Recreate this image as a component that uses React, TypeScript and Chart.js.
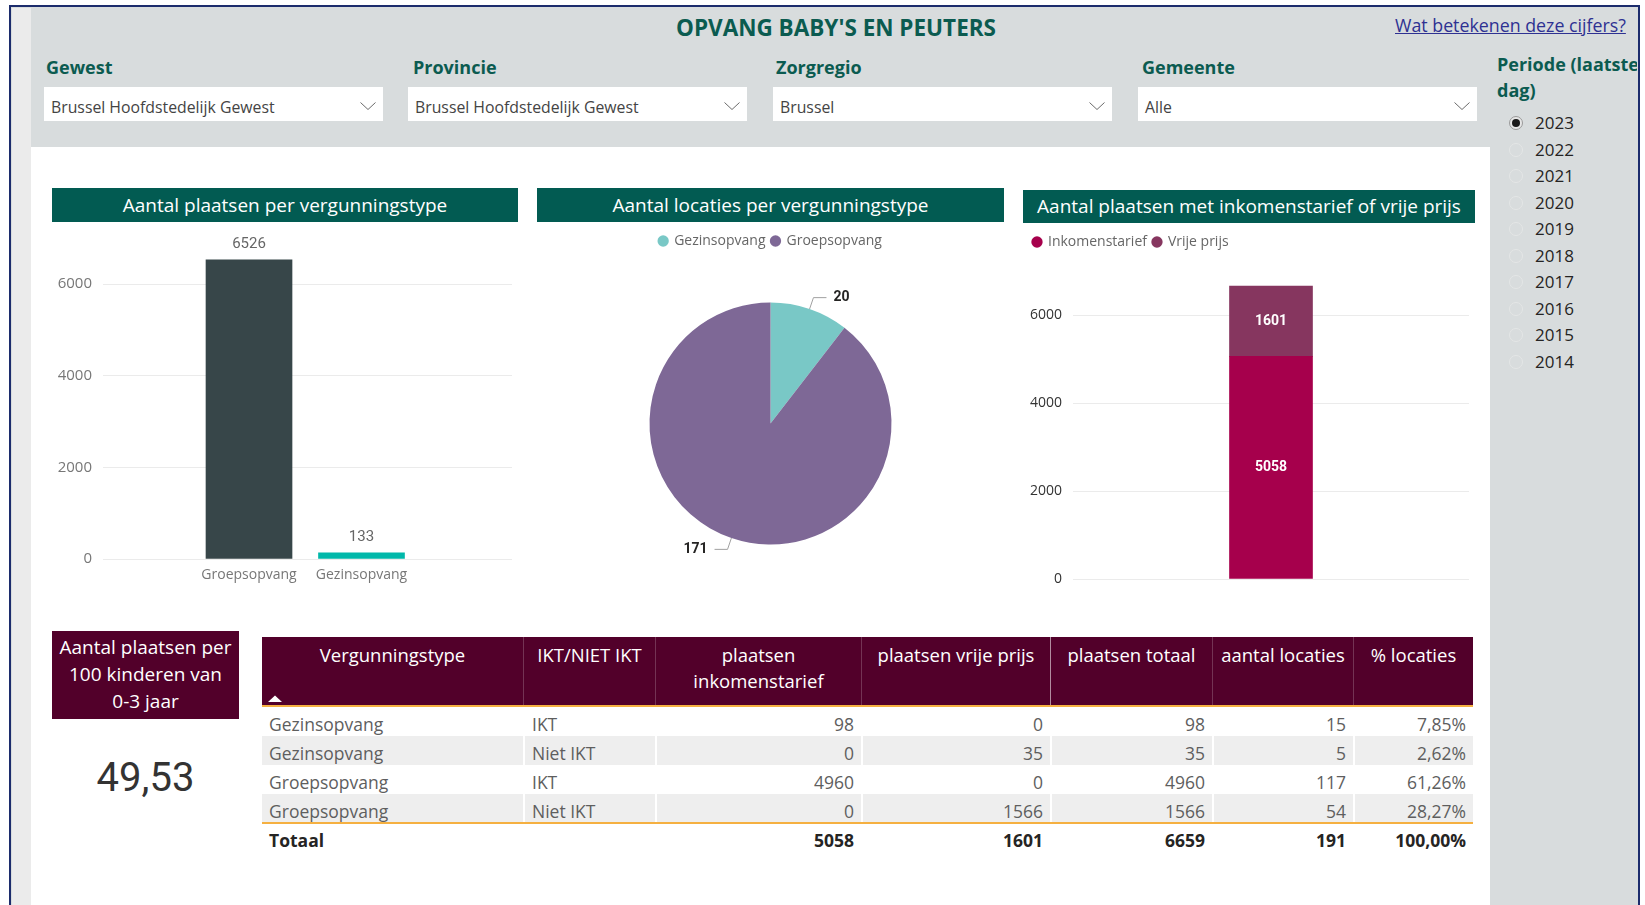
import React, { useEffect, useRef } from 'react';
import { Chart, registerables } from 'chart.js';

Chart.register(...registerables);

const FONT = '"Open Sans", sans-serif';
const NUM_FONT = 'Roboto, sans-serif';
const TEAL = '#0B5B50';
const HEADER_TEAL = '#025B52';
const MAROON = '#52002A';
const ORANGE = '#F5B041';

// ---------- texts ----------
const pageTitle = "OPVANG BABY'S EN PEUTERS";
const linkText = 'Wat betekenen deze cijfers?';
const slicerLabels = ['Gewest', 'Provincie', 'Zorgregio', 'Gemeente'];
const slicerValues = ['Brussel Hoofdstedelijk Gewest', 'Brussel Hoofdstedelijk Gewest', 'Brussel', 'Alle'];
const periodeTitle = ['Periode (laatste', 'dag)'];
const periodeYears = ['2023', '2022', '2021', '2020', '2019', '2018', '2017', '2016', '2015', '2014'];
const selectedYear = '2023';
const chartTitles = [
  'Aantal plaatsen per vergunningstype',
  'Aantal locaties per vergunningstype',
  'Aantal plaatsen met inkomenstarief of vrije prijs',
];

// ---------- chart 1: places per license type ----------
const typeCategories = ['Groepsopvang', 'Gezinsopvang'];
const typePlaces = [6526, 133];
const typeColors = ['#374649', '#01B8AA'];
const placesTicks = [0, 2000, 4000, 6000];

// ---------- chart 2: locations per license type ----------
const locationCategories = ['Gezinsopvang', 'Groepsopvang'];
const locationCounts = [20, 171];
const locationColors = ['#79C8C6', '#7E6896'];

// ---------- chart 3: income tariff vs free price ----------
const tariffCategory = ['Brussel'];
const tariffSeries = ['Inkomenstarief', 'Vrije prijs'];
const tariffValues = [5058, 1601];
const tariffColors = ['#A6004C', '#86365F'];
const tariffTicks = [0, 2000, 4000, 6000];

// ---------- KPI ----------
const kpiTitle = ['Aantal plaatsen per', '100 kinderen van', '0-3 jaar'];
const kpiValue = '49,53';

// ---------- table ----------
const tableHeaders = ['Vergunningstype', 'IKT/NIET IKT', 'plaatsen\ninkomenstarief', 'plaatsen vrije prijs', 'plaatsen totaal', 'aantal locaties', '% locaties'];
const rowTypes = ['Gezinsopvang', 'Gezinsopvang', 'Groepsopvang', 'Groepsopvang'];
const rowIkt = ['IKT', 'Niet IKT', 'IKT', 'Niet IKT'];
const rowInkomens = [98, 0, 4960, 0];
const rowVrije = [0, 35, 0, 1566];
const rowTotaal = [98, 35, 4960, 1566];
const rowLocaties = [15, 5, 117, 54];
const rowPct = ['7,85%', '2,62%', '61,26%', '28,27%'];
const totalLabel = 'Totaal';
const totalValues = ['5058', '1601', '6659', '191', '100,00%'];

// ---------- layout constants ----------
const colX = [262, 523, 655, 861, 1050, 1212, 1353, 1473];

const fixedLegendHeight = (h: number) => ({
  id: 'fixedLegendHeight',
  beforeLayout(chart: any) {
    const lg = chart.legend;
    if (lg && !lg.__patched) {
      const orig = lg.fit.bind(lg);
      lg.fit = function () {
        orig();
        this.height = h;
      };
      lg.__patched = true;
    }
  },
});

function ChartBox({ left, top, width, height, makeConfig }: any) {
  const ref = useRef<HTMLCanvasElement>(null);
  useEffect(() => {
    const chart = new Chart(ref.current as HTMLCanvasElement, makeConfig());
    let alive = true;
    if ((document as any).fonts && (document as any).fonts.ready) {
      (document as any).fonts.ready.then(() => {
        if (alive) chart.update('none');
      });
    }
    return () => {
      alive = false;
      chart.destroy();
    };
  }, []);
  return (
    <canvas
      ref={ref}
      width={width}
      height={height}
      style={{ position: 'absolute', left, top, width, height }}
    />
  );
}

function yAxisFit(width: number) {
  return (s: any) => {
    s.width = width;
    s.paddingTop = 0;
    s.paddingBottom = 0;
  };
}

function chart1Config(): any {
  return {
    type: 'bar',
    data: {
      datasets: [
        {
          data: typePlaces.map((v, i) => ({ x: i, y: v })),
          backgroundColor: typeColors,
          barThickness: 86,
        },
      ],
    },
    options: {
      animation: false,
      responsive: false,
      maintainAspectRatio: false,
      events: [],
      layout: { padding: { top: 13.2, right: 6, left: 0, bottom: 0 } },
      plugins: { legend: { display: false }, tooltip: { enabled: false } },
      scales: {
        x: {
          type: 'linear',
          min: -1.298,
          max: 2.338,
          offset: false,
          grid: { display: false, drawTicks: false },
          border: { display: false },
          afterBuildTicks: (s: any) => {
            s.ticks = typeCategories.map((_, i) => ({ value: i }));
          },
          afterFit: (s: any) => {
            s.height = 31;
          },
          ticks: {
            callback: (v: any) => typeCategories[v] ?? '',
            font: { family: FONT, size: 14 },
            color: '#777777',
            padding: 8,
            maxRotation: 0,
            autoSkip: false,
          },
        },
        y: {
          min: 0,
          max: 7000,
          afterBuildTicks: (s: any) => {
            s.ticks = placesTicks.map((v) => ({ value: v }));
          },
          afterFit: yAxisFit(51),
          grid: { color: '#EBEBEB', drawTicks: false },
          border: { display: false },
          ticks: {
            callback: (v: any) => String(v),
            font: { family: FONT, size: 15 },
            color: '#777777',
            padding: 11,
          },
        },
      },
    },
    plugins: [
      {
        id: 'barValues',
        afterDatasetsDraw(chart: any) {
          const ctx = chart.ctx;
          const meta = chart.getDatasetMeta(0);
          ctx.save();
          ctx.font = `15px ${NUM_FONT}`;
          ctx.fillStyle = '#666666';
          ctx.textAlign = 'center';
          ctx.textBaseline = 'middle';
          meta.data.forEach((bar: any, i: number) => {
            ctx.fillText(String(typePlaces[i]), bar.x, bar.y - 16);
          });
          ctx.restore();
        },
      },
    ],
  };
}

function chart2Config(): any {
  return {
    type: 'pie',
    data: {
      labels: locationCategories,
      datasets: [
        {
          data: locationCounts,
          backgroundColor: locationColors,
          borderWidth: 0,
        },
      ],
    },
    options: {
      animation: false,
      responsive: false,
      maintainAspectRatio: false,
      events: [],
      layout: { padding: { top: 3, bottom: 45.5, left: 0, right: 0 } },
      plugins: {
        tooltip: { enabled: false },
        legend: {
          position: 'top',
          align: 'center',
          labels: {
            usePointStyle: true,
            pointStyle: 'circle',
            boxWidth: 8,
            boxHeight: 8,
            padding: 6,
            font: { family: FONT, size: 14 },
            color: '#666666',
          },
        },
      },
    },
    plugins: [
      fixedLegendHeight(74.5),
      {
        id: 'pieLeaders',
        afterDatasetsDraw(chart: any) {
          const ctx = chart.ctx;
          const meta = chart.getDatasetMeta(0);
          ctx.save();
          meta.data.forEach((arc: any, i: number) => {
            const p = arc.getProps(['x', 'y', 'startAngle', 'endAngle', 'outerRadius'], true);
            const mid = (p.startAngle + p.endAngle) / 2;
            const c = Math.cos(mid);
            const s = Math.sin(mid);
            const x0 = p.x + c * p.outerRadius;
            const y0 = p.y + s * p.outerRadius;
            const x1 = p.x + c * (p.outerRadius + 12);
            const y1 = p.y + s * (p.outerRadius + 12);
            const dir = c >= 0 ? 1 : -1;
            const x2 = x1 + dir * 13;
            ctx.strokeStyle = '#A0A0A0';
            ctx.lineWidth = 1;
            ctx.beginPath();
            ctx.moveTo(x0, y0);
            ctx.lineTo(x1, y1);
            ctx.lineTo(x2, y1);
            ctx.stroke();
            ctx.font = `bold 14px ${NUM_FONT}`;
            ctx.fillStyle = '#252423';
            ctx.textBaseline = 'middle';
            ctx.textAlign = dir > 0 ? 'left' : 'right';
            ctx.fillText(String(locationCounts[i]), x2 + dir * 7, y1);
          });
          ctx.restore();
        },
      },
    ],
  };
}

function chart3Config(): any {
  return {
    type: 'bar',
    data: {
      labels: tariffCategory,
      datasets: tariffSeries.map((name, i) => ({
        label: name,
        data: [tariffValues[i]],
        backgroundColor: tariffColors[i],
        barThickness: 83,
      })),
    },
    options: {
      animation: false,
      responsive: false,
      maintainAspectRatio: false,
      events: [],
      layout: { padding: { top: 4, right: 6, left: 4, bottom: 11 } },
      plugins: {
        tooltip: { enabled: false },
        legend: {
          position: 'top',
          align: 'start',
          labels: {
            usePointStyle: true,
            pointStyle: 'circle',
            boxWidth: 8,
            boxHeight: 8,
            padding: 6,
            font: { family: FONT, size: 14 },
            color: '#666666',
          },
        },
      },
      scales: {
        x: { stacked: true, display: false },
        y: {
          stacked: true,
          min: 0,
          max: 7000,
          afterBuildTicks: (s: any) => {
            s.ticks = tariffTicks.map((v) => ({ value: v }));
          },
          afterFit: yAxisFit(46),
          grid: { color: '#EBEBEB', drawTicks: false },
          border: { display: false },
          ticks: {
            callback: (v: any) => String(v),
            font: { family: FONT, size: 14 },
            color: '#333333',
            padding: 11,
          },
        },
      },
    },
    plugins: [
      fixedLegendHeight(42),
      {
        id: 'stackValues',
        afterDatasetsDraw(chart: any) {
          const ctx = chart.ctx;
          ctx.save();
          ctx.font = `bold 14px ${NUM_FONT}`;
          ctx.fillStyle = '#FFFFFF';
          ctx.textAlign = 'center';
          ctx.textBaseline = 'middle';
          chart.data.datasets.forEach((ds: any, di: number) => {
            const meta = chart.getDatasetMeta(di);
            meta.data.forEach((bar: any, i: number) => {
              ctx.fillText(String(ds.data[i]), bar.x, (bar.y + bar.base) / 2);
            });
          });
          ctx.restore();
        },
      },
    ],
  };
}

function Txt({ x, cy, lh = 24, children, style }: any) {
  return (
    <div
      style={{
        position: 'absolute',
        left: x,
        top: cy - lh / 2,
        height: lh,
        lineHeight: `${lh}px`,
        whiteSpace: 'nowrap',
        ...style,
      }}
    >
      {children}
    </div>
  );
}

function Chevron({ x, y }: any) {
  return (
    <svg style={{ position: 'absolute', left: x, top: y }} width={16} height={9}>
      <polyline points="0.5,0.5 8,7.5 15.5,0.5" fill="none" stroke="#6b6b6b" strokeWidth={1} />
    </svg>
  );
}

function App() {
  const slicerX = [44, 408, 773, 1138];
  const slicerLabelX = [46, 413, 776, 1142];
  const headerBoxes = [
    { left: 52, top: 188, width: 466, height: 34 },
    { left: 537, top: 188, width: 467, height: 34 },
    { left: 1023, top: 190, width: 452, height: 33 },
  ];
  const rowTop = 707;
  const rowH = 29;
  const bodyCols = (r: number) => [
    rowTypes[r],
    rowIkt[r],
    String(rowInkomens[r]),
    String(rowVrije[r]),
    String(rowTotaal[r]),
    String(rowLocaties[r]),
    rowPct[r],
  ];

  return (
    <div
      style={{
        position: 'absolute',
        left: 0,
        top: 0,
        width: 1645,
        height: 905,
        overflow: 'hidden',
        background: '#FFFFFF',
        fontFamily: FONT,
      }}
    >
      {/* frame */}
      <div
        style={{
          position: 'absolute',
          left: 9,
          top: 5,
          width: 1631,
          height: 930,
          border: '2.5px solid #1C2C6C',
          boxSizing: 'border-box',
          background: '#D8DCDD',
        }}
      />
      <div style={{ position: 'absolute', left: 11.5, top: 7.5, width: 19.5, height: 900, background: '#EBEBEB' }} />
      <div style={{ position: 'absolute', left: 31, top: 147, width: 1459, height: 760, background: '#FFFFFF' }} />

      {/* title + link */}
      <div
        style={{
          position: 'absolute',
          left: 536,
          width: 600,
          top: 14,
          height: 28,
          lineHeight: '28px',
          textAlign: 'center',
          fontWeight: 700,
          fontSize: 22.5,
          color: TEAL,
          whiteSpace: 'nowrap',
        }}
      >
        {pageTitle}
      </div>
      <Txt x={1395} cy={25} lh={24} style={{ fontSize: 17.8, color: '#2E3192', textDecoration: 'underline' }}>
        {linkText}
      </Txt>

      {/* slicers */}
      {slicerLabels.map((l, i) => (
        <Txt key={l} x={slicerLabelX[i]} cy={66.5} lh={26} style={{ fontSize: 18, fontWeight: 700, color: TEAL }}>
          {l}
        </Txt>
      ))}
      {slicerValues.map((v, i) => (
        <React.Fragment key={i}>
          <div style={{ position: 'absolute', left: slicerX[i], top: 87, width: 339, height: 34, background: '#FFFFFF' }} />
          <Txt x={slicerX[i] + 7} cy={106.5} lh={22} style={{ fontSize: 15.8, color: '#444444' }}>
            {v}
          </Txt>
          <Chevron x={slicerX[i] + 316} y={102} />
        </React.Fragment>
      ))}

      {/* periode */}
      <div style={{ position: 'absolute', left: 1490, top: 7.5, width: 147, height: 898, overflow: 'hidden' }}>
        {periodeTitle.map((t, i) => (
          <Txt key={t} x={7} cy={64 - 7.5 + i * 26} lh={26} style={{ fontSize: 18, fontWeight: 700, color: TEAL }}>
            {t}
          </Txt>
        ))}
        {periodeYears.map((y, i) => {
          const cy = 123 - 7.5 + i * 26.55;
          const sel = y === selectedYear;
          return (
            <React.Fragment key={y}>
              <svg style={{ position: 'absolute', left: 26 - 8, top: cy - 8 }} width={16} height={16}>
                {sel ? (
                  <>
                    <circle cx={8} cy={8} r={6.5} fill="#E6E6E6" stroke="#9A9A9A" strokeWidth={1} />
                    <circle cx={8} cy={8} r={4} fill="#1A1A1A" />
                  </>
                ) : (
                  <circle cx={8} cy={8} r={6.5} fill="none" stroke="#E4E6E6" strokeWidth={1} />
                )}
              </svg>
              <Txt x={45} cy={cy} lh={24} style={{ fontSize: 17, color: '#252423' }}>
                {y}
              </Txt>
            </React.Fragment>
          );
        })}
      </div>

      {/* chart headers */}
      {headerBoxes.map((b, i) => (
        <div
          key={i}
          style={{
            position: 'absolute',
            left: b.left,
            top: b.top,
            width: b.width,
            height: b.height,
            lineHeight: `${b.height}px`,
            background: HEADER_TEAL,
            color: '#FFFFFF',
            textAlign: 'center',
            fontSize: 19,
            whiteSpace: 'nowrap',
          }}
        >
          {chartTitles[i]}
        </div>
      ))}

      {/* charts */}
      <ChartBox left={52} top={225} width={466} height={365} makeConfig={chart1Config} />
      <ChartBox left={537} top={225} width={467} height={365} makeConfig={chart2Config} />
      <ChartBox left={1023} top={225} width={452} height={365} makeConfig={chart3Config} />

      {/* KPI */}
      <div
        style={{
          position: 'absolute',
          left: 52,
          top: 631,
          width: 187,
          height: 88,
          background: MAROON,
          color: '#FFFFFF',
          fontSize: 19,
          textAlign: 'center',
          paddingTop: 2.5,
          boxSizing: 'border-box',
        }}
      >
        {kpiTitle.map((t) => (
          <div key={t} style={{ height: 27, lineHeight: '27px', whiteSpace: 'nowrap' }}>
            {t}
          </div>
        ))}
      </div>
      <div
        style={{
          position: 'absolute',
          left: 52,
          width: 187,
          top: 754,
          height: 48,
          lineHeight: '48px',
          textAlign: 'center',
          fontFamily: NUM_FONT,
          fontSize: 40,
          color: '#333333',
        }}
      >
        {kpiValue}
      </div>

      {/* table header */}
      <div
        style={{
          position: 'absolute',
          left: colX[0],
          top: 637,
          width: colX[7] - colX[0],
          height: 70,
          background: MAROON,
          borderBottom: `2px solid ${ORANGE}`,
          boxSizing: 'border-box',
        }}
      />
      {tableHeaders.map((h, c) => (
        <div
          key={h}
          style={{
            position: 'absolute',
            left: colX[c],
            top: 637,
            width: colX[c + 1] - colX[c],
            height: 68,
            boxSizing: 'border-box',
            borderLeft: c === 0 ? 'none' : `1.5px solid ${c === 4 ? 'rgba(255,255,255,0.55)' : 'rgba(255,255,255,0.2)'}`,
            paddingTop: 5,
            color: '#FFFFFF',
            fontSize: 18.5,
            lineHeight: '26px',
            textAlign: 'center',
            whiteSpace: 'pre-line',
          }}
        >
          {h}
        </div>
      ))}
      <svg style={{ position: 'absolute', left: 268, top: 695 }} width={14} height={8}>
        <polygon points="0,7 7,0.5 14,7" fill="#FFFFFF" />
      </svg>

      {/* table body */}
      {rowTypes.map((_, r) => (
        <div
          key={r}
          style={{
            position: 'absolute',
            left: colX[0],
            top: rowTop + r * rowH,
            width: colX[7] - colX[0],
            height: rowH,
            background: r % 2 === 1 ? '#EEEEEE' : '#FFFFFF',
          }}
        >
          {bodyCols(r).map((v, c) => (
            <div
              key={c}
              style={{
                position: 'absolute',
                left: colX[c] - colX[0],
                top: 0,
                width: colX[c + 1] - colX[c],
                height: rowH,
                boxSizing: 'border-box',
                borderLeft: c === 0 ? 'none' : '2px solid #FFFFFF',
                lineHeight: '34px',
                fontSize: 17.5,
                color: '#5E5E5E',
                textAlign: c < 2 ? 'left' : 'right',
                paddingLeft: c < 2 ? 7 : 0,
                paddingRight: c < 2 ? 0 : 7,
                whiteSpace: 'nowrap',
              }}
            >
              {v}
            </div>
          ))}
        </div>
      ))}
      <div
        style={{
          position: 'absolute',
          left: colX[0],
          top: 822,
          width: colX[7] - colX[0],
          height: 0,
          borderTop: `2px solid ${ORANGE}`,
        }}
      />
      {[totalLabel, '', ...totalValues].map((v, c) => (
        <div
          key={c}
          style={{
            position: 'absolute',
            left: colX[c],
            top: 824,
            width: colX[c + 1] - colX[c],
            height: 32,
            boxSizing: 'border-box',
            lineHeight: '33px',
            fontSize: 17.5,
            fontWeight: 700,
            color: '#252423',
            textAlign: c < 2 ? 'left' : 'right',
            paddingLeft: c < 2 ? 7 : 0,
            paddingRight: c < 2 ? 0 : 7,
            whiteSpace: 'nowrap',
          }}
        >
          {v}
        </div>
      ))}
    </div>
  );
}

export default App;
